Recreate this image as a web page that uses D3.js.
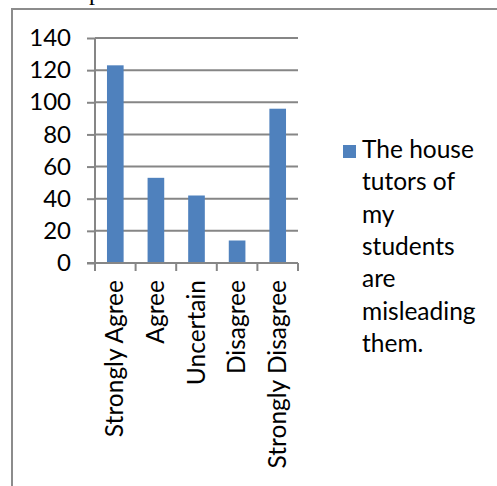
<!DOCTYPE html>
<html>
<head>
<meta charset="utf-8">
<script src="https://cdn.jsdelivr.net/npm/d3@7"></script>
<style>
  html, body { margin: 0; padding: 0; background: #fff; }
  svg { display: block; }
</style>
</head>
<body>
<script>
// Survey responses per category
const categories = ["Strongly Agree", "Agree", "Uncertain", "Disagree", "Strongly Disagree"];
const counts = [123, 53, 42, 14, 96];
const yTicks = [0, 20, 40, 60, 80, 100, 120, 140];
const seriesName = ["The house", "tutors of", "my", "students", "are", "misleading", "them."];

const W = 497, H = 486;
const font = "Lato, 'Open Sans', sans-serif";
const gridColor = "#868686";
const barColor = "#4F81BD";

const svg = d3.select("body").append("svg")
  .attr("width", W).attr("height", H);

// descender of the caption line above the chart frame
svg.append("text")
  .attr("x", 89).attr("y", 0)
  .attr("font-family", "'Liberation Serif', serif")
  .attr("font-size", 24)
  .attr("fill", "#000")
  .text("p");

// chart frame
svg.append("path")
  .attr("d", `M12,${H + 2} L12,9 L${W + 2},9`)
  .attr("fill", "none")
  .attr("stroke", "#8c8c8c")
  .attr("stroke-width", 2);

const plot = { left: 95, right: 298, top: 38, bottom: 263 };

const x = d3.scaleBand()
  .domain(categories)
  .range([plot.left, plot.right])
  .paddingInner(0.59)
  .paddingOuter(0.295);

const y = d3.scaleLinear()
  .domain([0, 140])
  .range([plot.bottom, plot.top]);

// horizontal gridlines
svg.append("g")
  .selectAll("line")
  .data(yTicks.filter(d => d > 0))
  .join("line")
  .attr("x1", plot.left).attr("x2", plot.right)
  .attr("y1", d => y(d)).attr("y2", d => y(d))
  .attr("stroke", gridColor).attr("stroke-width", 2);

// bars
svg.append("g")
  .selectAll("rect")
  .data(categories.map((c, i) => ({ c, v: counts[i] })))
  .join("rect")
  .attr("x", d => x(d.c))
  .attr("width", x.bandwidth())
  .attr("y", d => y(d.v))
  .attr("height", d => y(0) - y(d.v))
  .attr("fill", barColor);

// y axis
const yAxis = svg.append("g")
  .attr("transform", `translate(${plot.left},0)`)
  .call(d3.axisLeft(y).tickValues(yTicks).tickSize(8).tickPadding(16));
yAxis.select(".domain").attr("stroke", gridColor).attr("stroke-width", 2)
  .attr("d", `M0,${plot.top}V${plot.bottom}`);
yAxis.selectAll(".tick line").attr("stroke", gridColor).attr("stroke-width", 2);
yAxis.selectAll(".tick text")
  .attr("font-family", font).attr("font-size", 24).attr("fill", "#000");

// x axis with ticks on band boundaries
const xg = svg.append("g");
xg.append("line")
  .attr("x1", plot.left - 8).attr("x2", plot.right)
  .attr("y1", plot.bottom).attr("y2", plot.bottom)
  .attr("stroke", gridColor).attr("stroke-width", 2);
const bounds = d3.range(categories.length + 1).map(i => plot.left + i * (plot.right - plot.left) / categories.length);
xg.selectAll("line.tk")
  .data(bounds)
  .join("line")
  .attr("class", "tk")
  .attr("x1", d => d).attr("x2", d => d)
  .attr("y1", plot.bottom).attr("y2", plot.bottom + 8)
  .attr("stroke", gridColor).attr("stroke-width", 2);

xg.selectAll("text")
  .data(categories)
  .join("text")
  .attr("transform", d => `translate(${x(d) + x.bandwidth() / 2 + 8},${plot.bottom + 17}) rotate(-90)`)
  .attr("text-anchor", "end")
  .attr("font-family", font).attr("font-size", 24.5)
  .attr("fill", "#000")
  .text(d => d);

// legend
const lg = svg.append("g");
lg.append("rect")
  .attr("x", 343).attr("y", 145)
  .attr("width", 13).attr("height", 13)
  .attr("fill", barColor);
lg.append("text")
  .attr("font-family", font).attr("font-size", 24.5).attr("fill", "#000")
  .selectAll("tspan")
  .data(seriesName)
  .join("tspan")
  .attr("x", 362)
  .attr("y", (d, i) => 158 + i * 32.3)
  .text(d => d);
</script>
</body>
</html>
